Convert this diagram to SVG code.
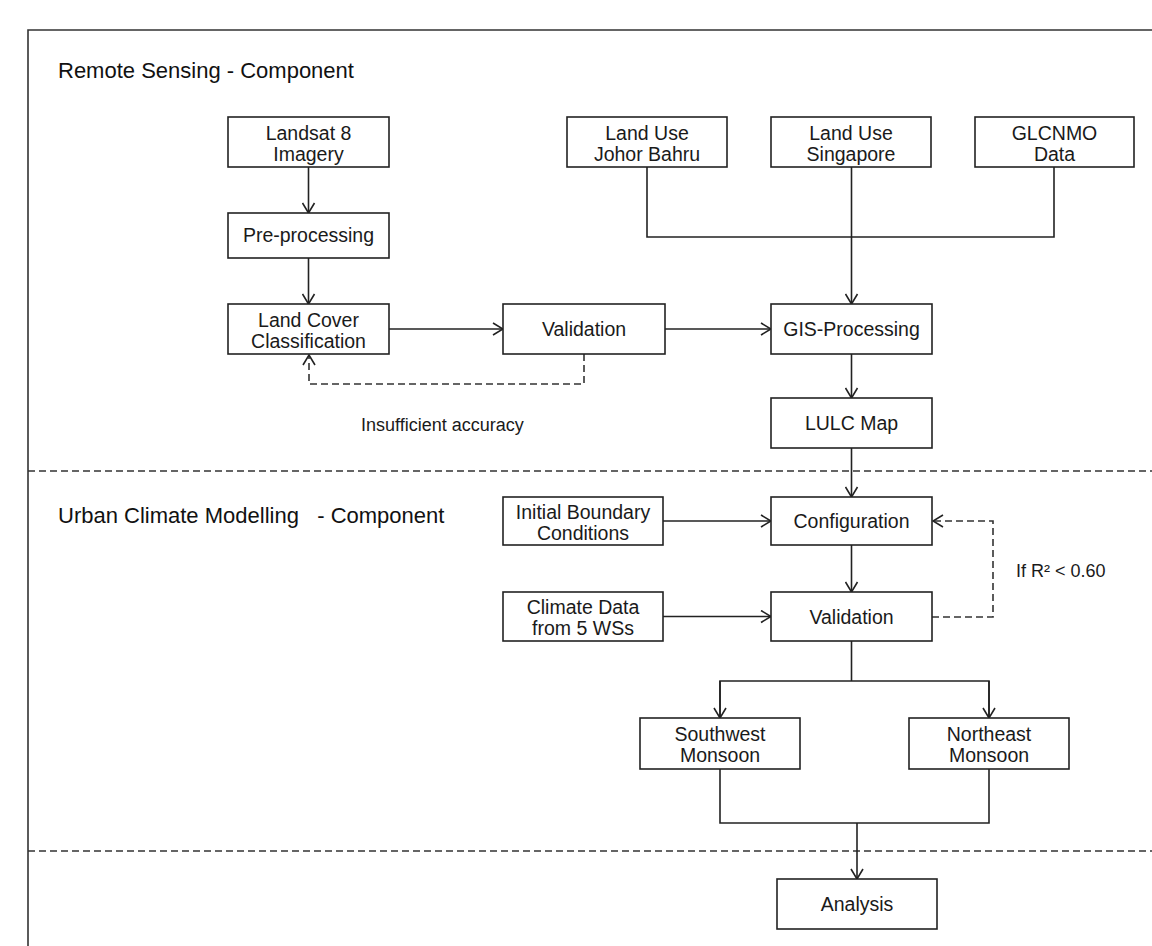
<svg xmlns="http://www.w3.org/2000/svg" width="1152" height="946" viewBox="0 0 1152 946">
<style>
.box{fill:#fff;stroke:#222;stroke-width:1.6}
.t{font-family:"Liberation Sans",Arial,sans-serif;font-size:19.5px;fill:#1a1a1a;text-anchor:middle}
.title{font-family:"Liberation Sans",Arial,sans-serif;font-size:22px;fill:#111}
.lbl{font-family:"Liberation Sans",Arial,sans-serif;font-size:18px;fill:#1a1a1a}
.c{fill:none;stroke:#222;stroke-width:1.6}
.d{fill:none;stroke:#333;stroke-width:1.6;stroke-dasharray:7 4}
.sep{fill:none;stroke:#333;stroke-width:1.4;stroke-dasharray:7 4}
</style>
<defs>
<marker id="ah" markerWidth="12" markerHeight="14" refX="11" refY="7" orient="auto" markerUnits="userSpaceOnUse">
<path d="M1,1 L11,7 L1,13" fill="none" stroke="#222" stroke-width="1.6"/>
</marker>
</defs>
<rect width="1152" height="946" fill="#fff"/>
<g id="frame">
<path d="M28,946 V30 H1152" fill="none" stroke="#333" stroke-width="1.6"/>
<path class="sep" d="M28,471 H1152"/>
<path class="sep" d="M28,851 H1152"/>
</g>
<g id="titles">
<text class="title" x="58" y="78">Remote Sensing - Component</text>
<text class="title" x="58" y="523" xml:space="preserve">Urban Climate Modelling   - Component</text>
<text class="lbl" x="361" y="431">Insufficient accuracy</text>
<text class="lbl" x="1016" y="577">If R² &lt; 0.60</text>
</g>
<g id="connectors">
<path class="c" d="M308.5,167 V213" marker-end="url(#ah)"/>
<path class="c" d="M308.5,258 V304" marker-end="url(#ah)"/>
<path class="c" d="M389,329 H503" marker-end="url(#ah)"/>
<path class="c" d="M665,329 H771" marker-end="url(#ah)"/>
<path class="c" d="M647,167 V237 H1054 V167"/>
<path class="c" d="M851.5,167 V304" marker-end="url(#ah)"/>
<path class="c" d="M851.5,354 V398" marker-end="url(#ah)"/>
<path class="c" d="M851.5,448 V497" marker-end="url(#ah)"/>
<path class="c" d="M663,521 H771" marker-end="url(#ah)"/>
<path class="c" d="M851.5,545 V592" marker-end="url(#ah)"/>
<path class="c" d="M663,616.5 H771" marker-end="url(#ah)"/>
<path class="c" d="M851.5,641 V681"/>
<path class="c" d="M720,718 V681 H989 V718"/>
<path class="c" d="M720,681 V718" marker-end="url(#ah)"/>
<path class="c" d="M989,681 V718" marker-end="url(#ah)"/>
<path class="c" d="M720,769 V823 H989 V769"/>
<path class="c" d="M857,823 V879" marker-end="url(#ah)"/>
<path class="d" d="M584,354 V384 H309 V355" marker-end="url(#ah)"/>
<path class="d" d="M932,617 H993 V521 H933" marker-end="url(#ah)"/>
</g>
<g id="landsat"><rect class="box" x="228" y="117" width="161" height="50"/><text class="t" x="308.5" y="139.5">Landsat 8</text><text class="t" x="308.5" y="160.5">Imagery</text></g>
<g id="preprocessing"><rect class="box" x="228" y="213" width="161" height="45"/><text class="t" x="308.5" y="242">Pre-processing</text></g>
<g id="landcover"><rect class="box" x="228" y="304" width="161" height="50"/><text class="t" x="308.5" y="326.5">Land Cover</text><text class="t" x="308.5" y="347.5">Classification</text></g>
<g id="validation1"><rect class="box" x="503" y="304" width="162" height="50"/><text class="t" x="584" y="336">Validation</text></g>
<g id="landuse-jb"><rect class="box" x="567" y="117" width="160" height="50"/><text class="t" x="647" y="139.5">Land Use</text><text class="t" x="647" y="160.5">Johor Bahru</text></g>
<g id="landuse-sg"><rect class="box" x="771" y="117" width="160" height="50"/><text class="t" x="851" y="139.5">Land Use</text><text class="t" x="851" y="160.5">Singapore</text></g>
<g id="glcnmo"><rect class="box" x="975" y="117" width="159" height="50"/><text class="t" x="1054.5" y="139.5">GLCNMO</text><text class="t" x="1054.5" y="160.5">Data</text></g>
<g id="gis"><rect class="box" x="771" y="304" width="161" height="50"/><text class="t" x="851.5" y="336">GIS-Processing</text></g>
<g id="lulc"><rect class="box" x="771" y="398" width="161" height="50"/><text class="t" x="851.5" y="430">LULC Map</text></g>
<g id="ibc"><rect class="box" x="503" y="497" width="160" height="48"/><text class="t" x="583" y="518.5">Initial Boundary</text><text class="t" x="583" y="539.5">Conditions</text></g>
<g id="configuration"><rect class="box" x="771" y="497" width="161" height="48"/><text class="t" x="851.5" y="528">Configuration</text></g>
<g id="climatedata"><rect class="box" x="503" y="592" width="160" height="49"/><text class="t" x="583" y="614">Climate Data</text><text class="t" x="583" y="635">from 5 WSs</text></g>
<g id="validation2"><rect class="box" x="771" y="592" width="161" height="49"/><text class="t" x="851.5" y="623.5">Validation</text></g>
<g id="southwest"><rect class="box" x="640" y="718" width="160" height="51"/><text class="t" x="720" y="741">Southwest</text><text class="t" x="720" y="762">Monsoon</text></g>
<g id="northeast"><rect class="box" x="909" y="718" width="160" height="51"/><text class="t" x="989" y="741">Northeast</text><text class="t" x="989" y="762">Monsoon</text></g>
<g id="analysis"><rect class="box" x="777" y="879" width="160" height="50"/><text class="t" x="857" y="911">Analysis</text></g>
</svg>
